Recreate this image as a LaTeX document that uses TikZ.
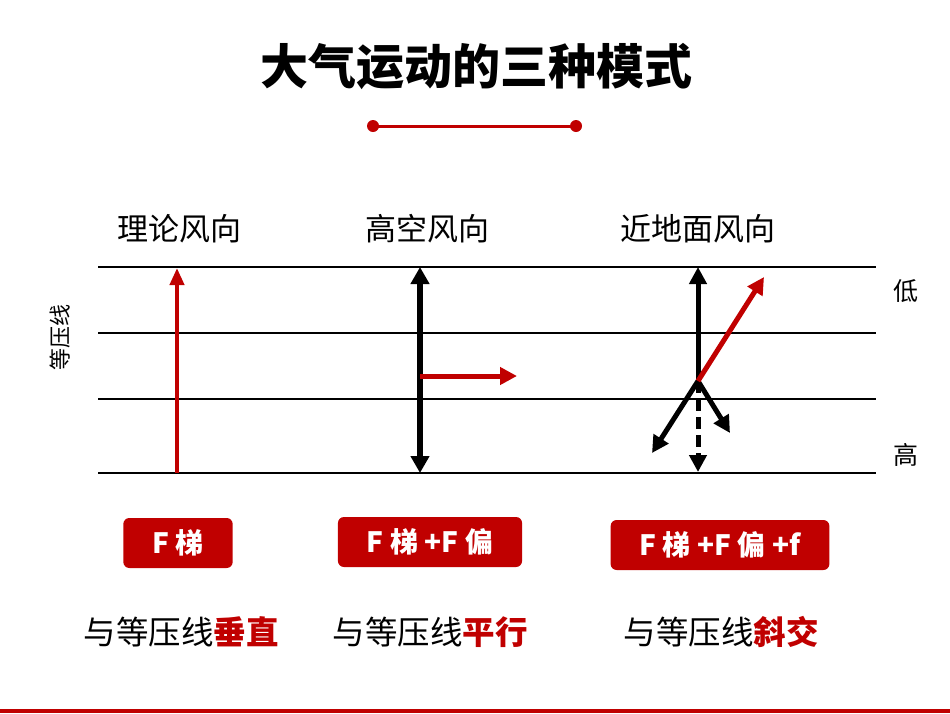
\documentclass[tikz,border=0pt]{standalone}
\usepackage{fontspec}
\setmainfont{Noto Sans CJK SC}
\usetikzlibrary{arrows.meta, positioning}
\definecolor{windRed}{HTML}{C00000}

\begin{document}
\begin{tikzpicture}[x=1pt, y=-1pt,
  title/.style={font=\fontsize{48}{52}\selectfont\bfseries},
  head/.style={font=\fontsize{31}{35}\selectfont},
  side/.style={font=\fontsize{25}{29}\selectfont},
  isobar/.style={line width=2pt},
  forcebox/.style={fill=windRed, rounded corners=6pt, text=white, minimum height=50pt,
    inner xsep=29pt, font=\fontsize{28}{32}\selectfont\bfseries},
  note/.style={font=\fontsize{32.5}{36}\selectfont},
  wind/.style={-{Triangle[length=17pt, width=17pt]}, line width=5pt},
  both/.style={{Triangle[length=17pt, width=18pt]}-{Triangle[length=17pt, width=18pt]}, line width=5.5pt}
]
\useasboundingbox (0,0) rectangle (950,713);

% title and red bar
\node[title] (title) at (476,67) {大气运动的三种模式};
\coordinate (barL) at (373,126);
\coordinate (barR) at (576,126);
\draw[windRed, line width=3pt] (barL) -- (barR);
\fill[windRed] (barL) circle (6) (barR) circle (6);

% isobars
\foreach \y in {267,333,399,473}
  \draw[isobar] (98,\y) -- (876,\y);
\node[rotate=90, font=\fontsize{22}{24}\selectfont] (isoname) at (60,337) {等压线};
\node[side] (low) at (906,291) {低};
\node[side] (high) at (906,455) {高};

% column headers
\node[head] (head1) at (179,229) {理论风向};
\node[head] (head2) at (427,229) {高空风向};
\node[head] (head3) at (698,229) {近地面风向};

% theory
\coordinate (t0) at (177,473);
\coordinate (t1) at (177,268);
\draw[windRed, -{Triangle[length=17pt, width=14pt]}, line width=4pt] (t0) -- (t1);

% upper air
\coordinate (u0) at (420,267);
\coordinate (u1) at (420,473);
\coordinate (uo) at (420,376);
\coordinate (ue) at (517,376);
\draw[both] (u0) -- (u1);
\draw[wind, windRed] (uo) -- (ue);

% near surface
\coordinate (s0) at (698,381);
\coordinate (sUp) at (698,267);
\coordinate (sWind) at (764,277);
\coordinate (sL) at (652,453);
\coordinate (sR) at (730,433);
\coordinate (sDown) at (698,472);
\draw[wind] (s0) -- (sUp);
\draw[wind, dash pattern=on 12pt off 6pt] (s0) -- (sDown);
\draw[wind] (s0) -- (sL);
\draw[wind] (s0) -- (sR);
\draw[wind, windRed] (s0) -- (sWind);

% forces
\node[forcebox] (f1) at (178,543) {F 梯};
\node[forcebox] (f2) at (430,542) {F 梯 +F 偏};
\node[forcebox] (f3) at (720,545) {F 梯 +F 偏 +f};

% relation to isobars
\node[note] (n1) at (181,632) {与等压线\textcolor{windRed}{\bfseries 垂直}};
\node[note] (n2) at (430,632) {与等压线\textcolor{windRed}{\bfseries 平行}};
\node[note] (n3) at (721,632) {与等压线\textcolor{windRed}{\bfseries 斜交}};

% bottom rule
\fill[windRed] (0,709) rectangle (950,713);
\end{tikzpicture}
\end{document}
